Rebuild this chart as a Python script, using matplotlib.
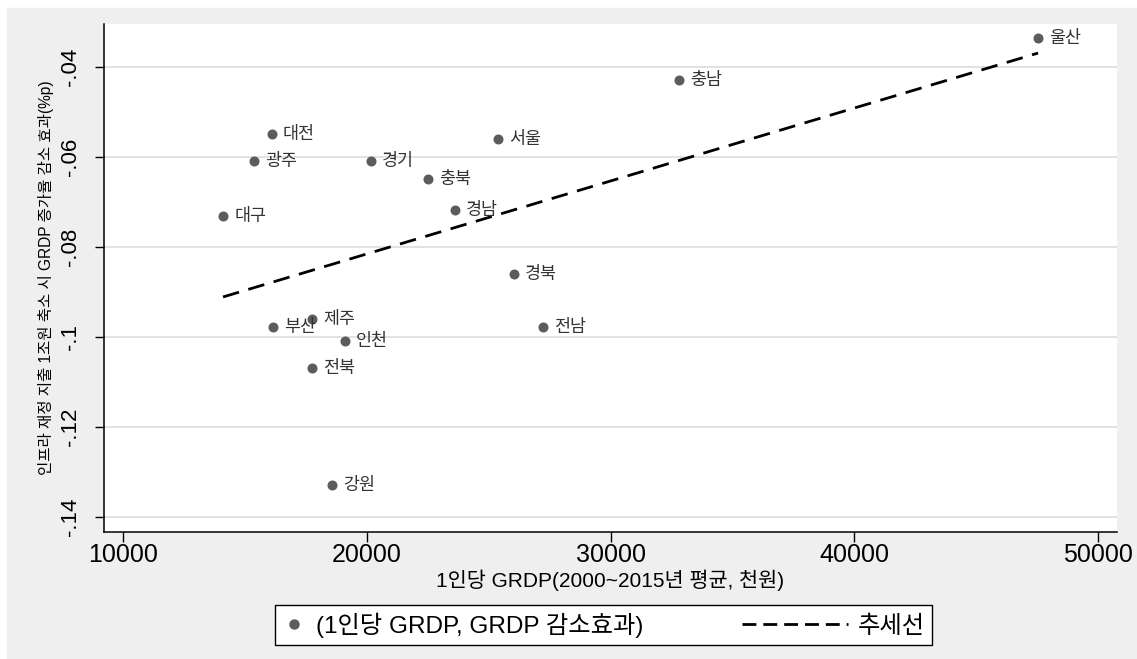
import matplotlib
matplotlib.use('Agg')
import matplotlib.pyplot as plt
from matplotlib.lines import Line2D
from matplotlib.patches import Rectangle
from matplotlib.legend_handler import HandlerLine2D

plt.rcParams['font.family'] = ['Liberation Sans', 'Noto Sans CJK KR']

# region, per-capita GRDP (2000~2015 avg, thousand won), GRDP growth reduction effect (%p)
regions = ['울산', '충남', '서울', '대전', '광주', '경기', '충북', '대구',
           '경남', '경북', '부산', '제주', '전남', '인천', '전북', '강원']
grdp_pc = [47540, 32810, 25372, 16100, 15374, 20162, 22513, 14103,
           23621, 26041, 16154, 17754, 27231, 19108, 17754, 18574]
effect = [-0.0336, -0.0429, -0.0560, -0.0549, -0.0609, -0.0609, -0.0649, -0.0731,
          -0.0718, -0.0860, -0.0978, -0.0960, -0.0978, -0.1009, -0.1069, -0.1329]

# trend line end points
trend_x = [14103, 47540]
trend_y = [-0.0911, -0.0369]

xticks = [10000, 20000, 30000, 40000, 50000]
yticks = [-0.14, -0.12, -0.10, -0.08, -0.06, -0.04]
ytick_labels = ['-.14', '-.12', '-.1', '-.08', '-.06', '-.04']

W, H = 1137, 659


class LongLineHandler(HandlerLine2D):
    # legend key for the trend line drawn longer than the marker key
    def __init__(self, extra, **kw):
        HandlerLine2D.__init__(self, **kw)
        self.extra = extra

    def create_artists(self, legend, orig_handle, xdescent, ydescent,
                       width, height, fontsize, trans):
        y = (height - ydescent) / 2.
        line = Line2D([-xdescent - self.extra * fontsize, -xdescent + width], [y, y])
        self.update_prop(line, orig_handle, legend)
        line.set_transform(trans)
        return [line]


fig = plt.figure(figsize=(W / 100, H / 100), dpi=100, facecolor='white')
fig.patches.append(Rectangle((7 / W, 0), 1 - 7 / W, 1 - 8 / H, transform=fig.transFigure,
                             color='#efefef', zorder=-1))

ax = fig.add_axes([104 / W, 1 - 532 / H, 1013 / W, 508 / H])
ax.set_facecolor('white')

ax.plot(trend_x, trend_y, color='black', lw=2.0, ls=(0, (6, 3.5)), zorder=2)
ax.scatter(grdp_pc, effect, s=52, color='#5c5c5c', linewidths=0, zorder=3)
for name, x, y in zip(regions, grdp_pc, effect):
    ax.annotate(name, (x, y), xytext=(8, 0), textcoords='offset points',
                ha='left', va='center', fontsize=12.5, color='#333333', zorder=4)

ax.set_xlim(9220, 50779)
ax.set_ylim(-0.14333, -0.030444)
ax.set_xticks(xticks)
ax.set_xticklabels([str(v) for v in xticks], fontsize=18)
ax.set_yticks(yticks)
ax.set_yticklabels(ytick_labels, rotation=90, va='center', fontsize=16)
ax.tick_params(axis='x', length=7.2, width=1, pad=1)
ax.tick_params(axis='y', length=6.5, width=1, pad=10)

ax.yaxis.grid(True, color='#dddddd', lw=1.2)
ax.xaxis.grid(False)
ax.set_axisbelow(True)
for s in ['top', 'right']:
    ax.spines[s].set_visible(False)
for s in ['left', 'bottom']:
    ax.spines[s].set_linewidth(1.1)
    ax.spines[s].set_color('black')

ax.set_xlabel('1인당 GRDP(2000~2015년 평균, 천원)', fontsize=15)
ax.xaxis.set_label_coords(0.5, (532 - 580) / 508)
ax.xaxis.label.set_va('center')
ax.set_ylabel('인프라 재정 지출 1조원 축소 시 GRDP 증가율 감소 효과(%p)', fontsize=11.2)
ax.yaxis.set_label_coords((46 - 104) / 1013, 0.5)
ax.yaxis.label.set_va('center')

dot_key = Line2D([], [], marker='o', ls='none', color='#5c5c5c', markersize=7.5, markeredgewidth=0)
line_key = Line2D([], [], color='black', lw=2.0, ls=(0, (5, 2.5)))
leg = fig.legend([dot_key, line_key], ['(1인당 GRDP, GRDP 감소효과)', '추세선'],
                 handler_map={line_key: LongLineHandler(3.35)},
                 loc='center left', bbox_to_anchor=(275 / W, 1 - 625 / H), ncol=2,
                 fontsize=17.5, frameon=True, fancybox=False, framealpha=1,
                 edgecolor='black', handlelength=1.0, handletextpad=0.4,
                 columnspacing=7.4, borderpad=0.3, borderaxespad=0)
leg.get_frame().set_linewidth(1.0)

fig.savefig('out.png', dpi=100)
